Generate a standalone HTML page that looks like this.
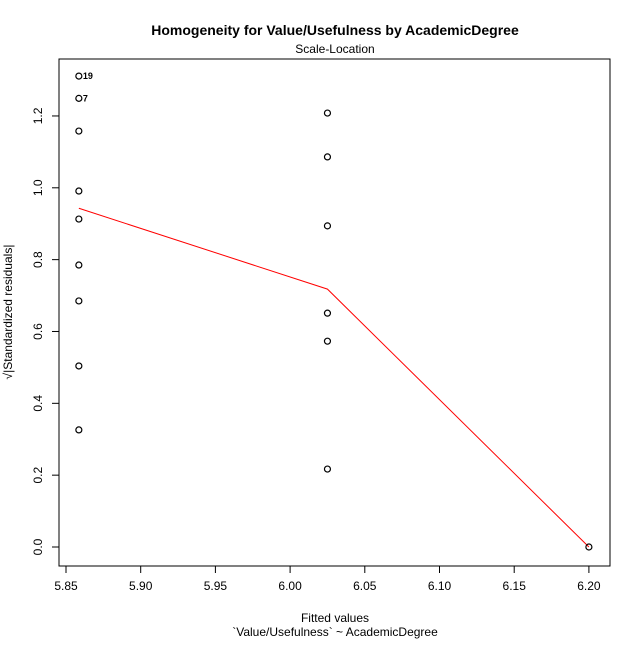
<!DOCTYPE html>
<html><head><meta charset="utf-8"><style>
body{margin:0;background:#fff}
svg{font-family:"Liberation Sans",Arial,sans-serif}
</style></head><body>
<svg id="chart" width="640" height="640">
<text x="335" y="35" font-size="14" font-weight="bold" text-anchor="middle">Homogeneity for Value/Usefulness by AcademicDegree</text>
<text x="335" y="53" font-size="12" text-anchor="middle">Scale-Location</text>
<rect x="59" y="59" width="551" height="507" fill="none" stroke="#000"/>
<text x="335" y="622" font-size="12" text-anchor="middle">Fitted values</text>
<text x="335" y="636" font-size="12" text-anchor="middle">`Value/Usefulness` ~ AcademicDegree</text>
<text transform="translate(12,312) rotate(-90)" font-size="12" text-anchor="middle">√|Standardized residuals|</text>
<g id="g"></g>
</svg>
<script>
const xTicks=[5.85,5.90,5.95,6.00,6.05,6.10,6.15,6.20];
const yTicks=[0.0,0.2,0.4,0.6,0.8,1.0,1.2];
const fittedX=[5.8586,5.8586,5.8586,5.8586,5.8586,5.8586,5.8586,5.8586,5.8586,6.025,6.025,6.025,6.025,6.025,6.025,6.2];
const residY=[1.311,1.249,1.158,0.991,0.913,0.785,0.685,0.504,0.326,1.208,1.086,0.894,0.651,0.573,0.217,0.0];
const labelIdx=[0,1];
const labelTxt=["19","7"];
const smoothX=[5.8586,6.025,6.2];
const smoothY=[0.943,0.718,0.0];
const X=v=>66+(v-5.85)/0.05*74.7;
const Y=v=>547-v*359.2;
const g=document.getElementById('g');
const NS='http://www.w3.org/2000/svg';
function mk(t,a){const e=document.createElementNS(NS,t);for(const k in a)e.setAttribute(k,a[k]);g.appendChild(e);return e;}
const ax=mk('line',{x1:X(5.85),x2:X(6.2),y1:566,y2:566,stroke:'#000'});


xTicks.forEach(v=>{
 const t=mk('line',{x1:X(v),x2:X(v),y1:566,y2:573,stroke:'#000'});
 
 
 const l=mk('text',{x:X(v),y:590,'font-size':12,'text-anchor':'middle'});l.textContent=v.toFixed(2);
 
 
});
const ay=mk('line',{x1:59,x2:59,y1:Y(0),y2:Y(1.2),stroke:'#000'});


yTicks.forEach(v=>{
 const t=mk('line',{x1:52,x2:59,y1:Y(v),y2:Y(v),stroke:'#000'});
 
 
 const l=mk('text',{transform:`translate(42,${Y(v)}) rotate(-90)`,'font-size':12,'text-anchor':'middle'});l.textContent=v.toFixed(1);
 
 
});
const sm=mk('polyline',{points:smoothX.map((x,i)=>X(x)+','+Y(smoothY[i])).join(' '),fill:'none',stroke:'#ff0000'});


fittedX.forEach((x,i)=>{
 const c=mk('circle',{cx:X(x),cy:Y(residY[i]),r:3,fill:'none',stroke:'#000','stroke-width':1.2});
 
 
});
labelIdx.forEach((idx,j)=>{
 const l=mk('text',{x:X(fittedX[idx])+4,y:Y(residY[idx])+3,'font-size':9,'font-weight':'bold'});l.textContent=labelTxt[j];
 
 
});
</script>
</body></html>
